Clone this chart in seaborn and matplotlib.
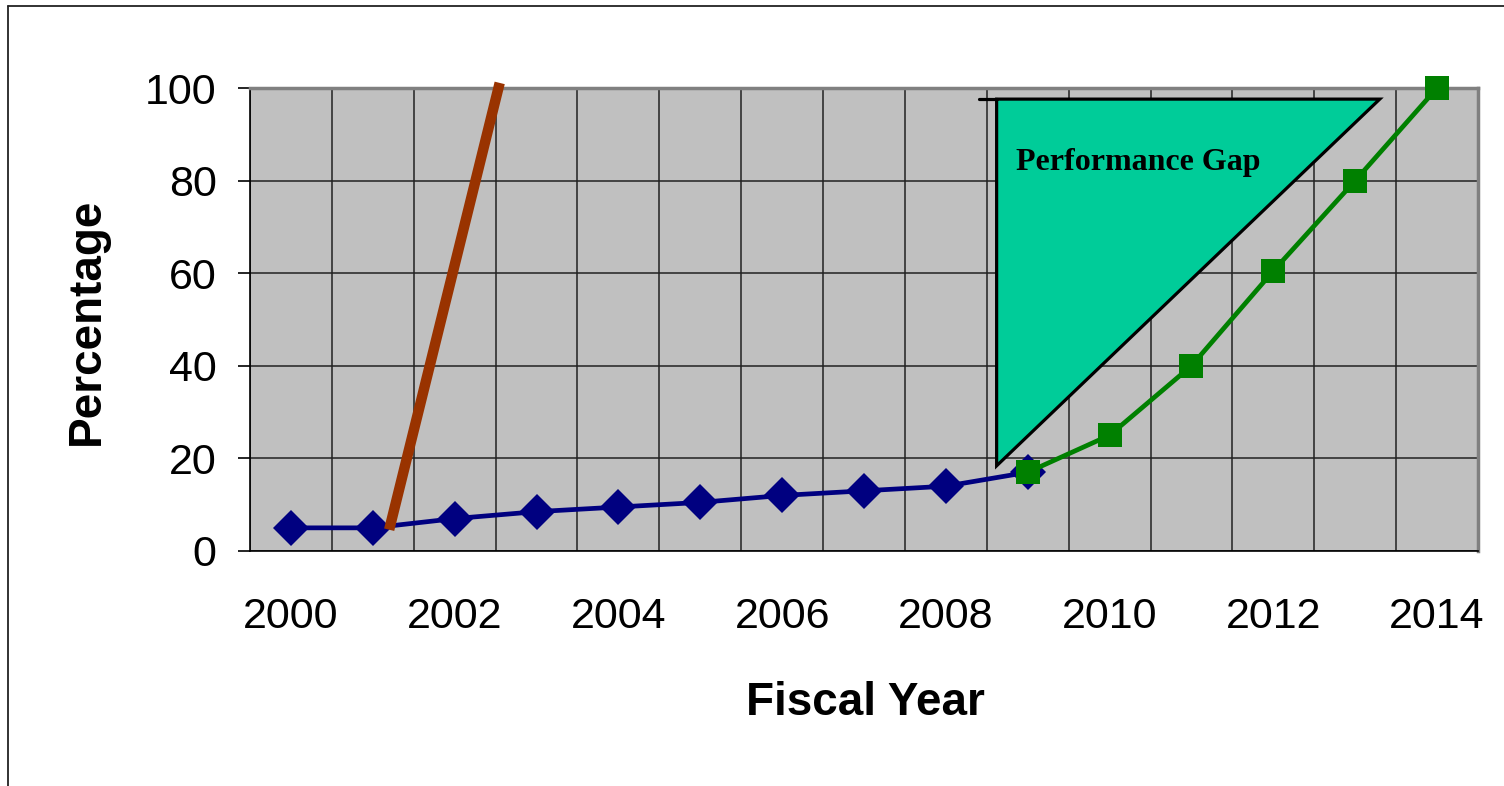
import matplotlib
matplotlib.use("Agg")
import matplotlib.pyplot as plt
import seaborn as sns
import pandas as pd
from matplotlib.lines import Line2D
from matplotlib.patches import Polygon
from matplotlib.ticker import FixedLocator, NullFormatter, FixedFormatter

# ---- data ----
years = list(range(2000, 2015))
actual_years = [2000, 2001, 2002, 2003, 2004, 2005, 2006, 2007, 2008, 2009]
actual_pct = [5, 5, 7, 8.5, 9.5, 10.5, 12, 13, 14, 17]
target_years = [2009, 2010, 2011, 2012, 2013, 2014]
target_pct = [17, 25, 40, 60.5, 80, 100]
# steep trend line (category positions, percentage)
trend_x = [1.20, 2.55]
trend_y = [4.6, 101.1]
# performance-gap triangle (category positions, percentage)
gap_x = [8.62, 13.30, 8.62]
gap_y = [97.6, 97.6, 18.4]
gap_top_start = 8.40
gap_label = "Performance Gap"
y_ticks = [0, 20, 40, 60, 80, 100]
x_tick_years = [2000, 2002, 2004, 2006, 2008, 2010, 2012, 2014]

sns.set_style("white")
plt.rcParams['font.family'] = ['Liberation Sans', 'DejaVu Sans']
plt.rcParams['text.color'] = 'black'

W, H = 1504, 786
fig = plt.figure(figsize=(W / 100, H / 100), dpi=100)
ax = fig.add_axes([250 / W, 1 - 551 / H, (1478 - 250) / W, (551 - 88) / H])
ax.set_facecolor('#C0C0C0')

df_a = pd.DataFrame({"pos": [years.index(y) for y in actual_years], "pct": actual_pct})
df_t = pd.DataFrame({"pos": [years.index(y) for y in target_years], "pct": target_pct})

sns.lineplot(data=df_a, x="pos", y="pct", ax=ax, color='#000080', linewidth=3.4,
             marker='D', markersize=18.5, markeredgewidth=0, clip_on=False, zorder=5)
sns.lineplot(data=df_t, x="pos", y="pct", ax=ax, color='#008000', linewidth=3.4,
             marker='s', markersize=17, markeredgewidth=0, clip_on=False, zorder=6)

# trend line
ax.add_line(Line2D(trend_x, trend_y, color='#993300', linewidth=7.5,
                   solid_capstyle='butt', clip_on=False, zorder=7))

# performance gap triangle
tri = Polygon(list(zip(gap_x, gap_y)), closed=True, facecolor='#00CC99',
              edgecolor='black', linewidth=2.3, joinstyle='miter', zorder=4)
ax.add_patch(tri)
ax.add_line(Line2D([gap_top_start, gap_x[0]], [gap_y[0], gap_y[0]], color='black',
                   linewidth=2.3, zorder=4))
ax.text(8.856, 82.3, gap_label, family=['Liberation Serif'], fontweight='bold',
        fontsize=23, ha='left', va='baseline', color='black', zorder=8)

# axes
ax.set_xlim(-0.5, len(years) - 0.5)
ax.set_ylim(0, 100)
ax.set_xlabel("")
ax.set_ylabel("")

ax.xaxis.set_major_locator(FixedLocator([years.index(y) for y in x_tick_years]))
ax.xaxis.set_major_formatter(FixedFormatter([str(y) for y in x_tick_years]))
ax.xaxis.set_minor_locator(FixedLocator([i - 0.5 for i in range(len(years) + 1)]))
ax.xaxis.set_minor_formatter(NullFormatter())
ax.tick_params(axis='x', which='major', length=0, pad=33, labelsize=31, labelcolor='black')
ax.tick_params(axis='x', which='minor', length=8.6, width=1.2, color='black', direction='out')

ax.yaxis.set_major_locator(FixedLocator(y_ticks))
ax.tick_params(axis='y', which='major', length=8.6, width=1.2, color='black',
               direction='out', pad=15.5, labelsize=31, labelcolor='black')
ax.tick_params(left=True, bottom=True)

ax.grid(False)
ax.grid(True, which='minor', axis='x', color='#222222', linewidth=1.1)
ax.grid(True, which='major', axis='y', color='#222222', linewidth=1.1)
ax.set_axisbelow(True)

for s in ['top', 'right']:
    ax.spines[s].set_color('#808080')
    ax.spines[s].set_linewidth(2.5)
for s in ['left', 'bottom']:
    ax.spines[s].set_color('black')
    ax.spines[s].set_linewidth(1.2)

# axis titles
fig.text(87 / W, 1 - 321 / H, "Percentage", rotation=90, ha='center', va='center',
         fontsize=33, fontweight='bold', color='black')
fig.text(865 / W, 1 - 703 / H, "Fiscal Year", ha='center', va='center',
         fontsize=33, fontweight='bold', color='black')

# outer frame
fig.add_artist(Line2D([8 / W, 8 / W], [0, 1 - 6 / H], color='#222222', linewidth=1.3,
                      transform=fig.transFigure))
fig.add_artist(Line2D([8 / W, 1], [1 - 6 / H, 1 - 6 / H], color='#222222', linewidth=1.3,
                      transform=fig.transFigure))

fig.savefig("out.png", dpi=100)
